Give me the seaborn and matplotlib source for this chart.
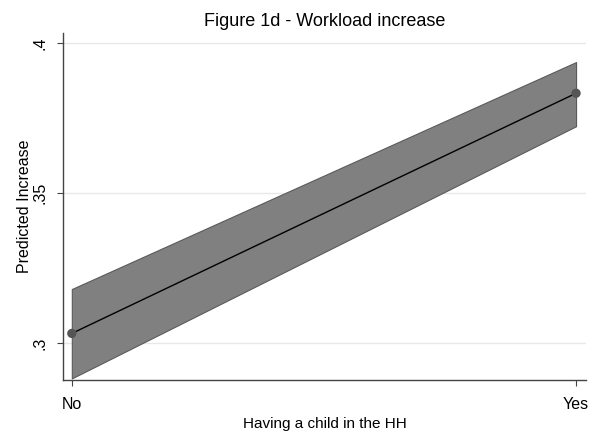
import pandas as pd
import matplotlib.pyplot as plt
import seaborn as sns

# data
groups = ['No', 'Yes']
x_pos = [0, 1]
predicted = [0.3032, 0.3833]
ci_low = [0.2882, 0.3723]
ci_high = [0.3180, 0.3937]

df = pd.DataFrame({'x': x_pos, 'pred': predicted, 'lo': ci_low, 'hi': ci_high})

sns.set_style('white')
plt.rcParams['font.family'] = ['Liberation Sans', 'DejaVu Sans']
plt.rcParams['text.color'] = 'black'
plt.rcParams['xtick.color'] = 'black'
plt.rcParams['ytick.color'] = 'black'
plt.rcParams['axes.labelcolor'] = 'black'

fig = plt.figure(figsize=(5.98, 4.34), dpi=100)
ax = fig.add_axes([0.105, 0.124, 0.875, 0.800])

# y grid
for t in [0.3, 0.35, 0.4]:
    ax.axhline(t, color='#e8e8e8', lw=1, zorder=0)

ax.fill_between(df['x'], df['lo'], df['hi'], color='#808080', edgecolor='#5a5a5a', lw=0.8, zorder=1)
sns.lineplot(data=df, x='x', y='pred', ax=ax, color='black', lw=1, zorder=2)
ax.scatter(df['x'], df['pred'], color='#555555', s=45, zorder=3, edgecolor='none')

ax.set_xlim(-0.0179, 1.0198)
ax.set_ylim(0.2876, 0.4034)
ax.set_xticks(x_pos)
ax.set_xticklabels(groups)
ax.set_yticks([0.3, 0.35, 0.4])
ax.set_yticklabels(['.3', '.35', '.4'], rotation=90, va='center')

for s in ['top', 'right']:
    ax.spines[s].set_visible(False)
for s in ['left', 'bottom']:
    ax.spines[s].set_color('#444444')
    ax.spines[s].set_linewidth(1)
ax.tick_params(axis='both', length=4, width=0.8, color='#444444', labelsize=11.5, direction='out')
ax.tick_params(axis='y', left=True, pad=7)
ax.tick_params(axis='x', bottom=True, pad=8)

ax.set_xlabel('Having a child in the HH', fontsize=11, labelpad=4)
ax.set_ylabel('Predicted Increase', fontsize=11.5)
ax.yaxis.set_label_coords(-0.058, 0.5)
ax.set_title('Figure 1d - Workload increase', fontsize=13, pad=5)

fig.savefig('out.png', dpi=100, facecolor='white')
